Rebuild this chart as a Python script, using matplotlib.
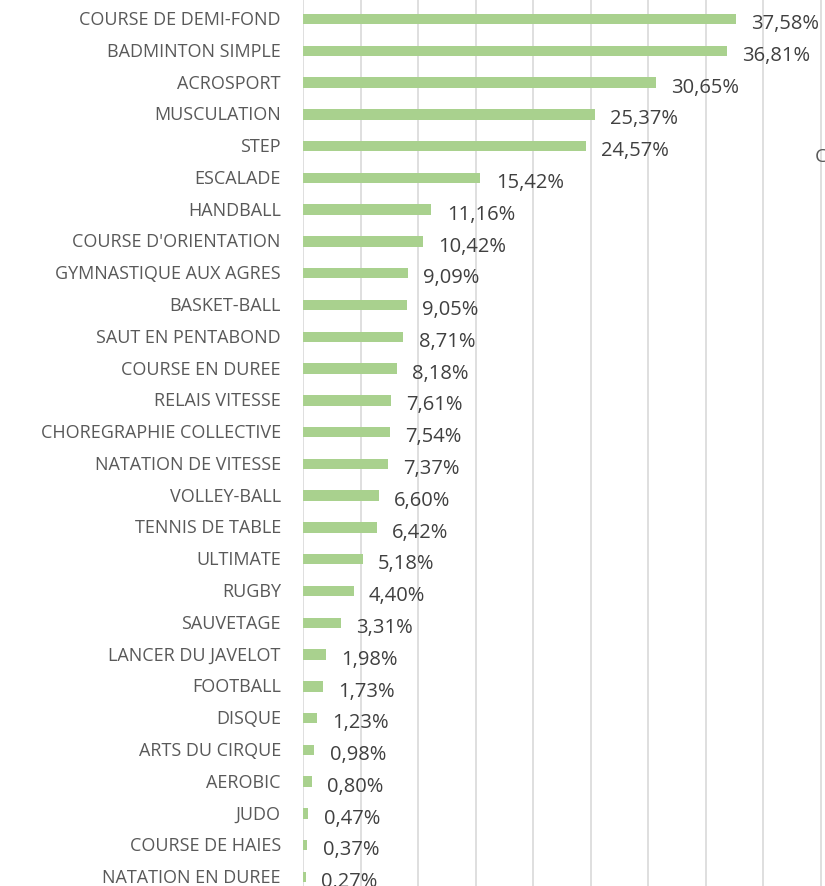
import matplotlib.pyplot as plt
import matplotlib.transforms as mtransforms
from matplotlib.ticker import MultipleLocator

sports = ["COURSE DE DEMI-FOND", "BADMINTON SIMPLE", "ACROSPORT", "MUSCULATION",
          "STEP", "ESCALADE", "HANDBALL", "COURSE D'ORIENTATION",
          "GYMNASTIQUE AUX AGRES", "BASKET-BALL", "SAUT EN PENTABOND",
          "COURSE EN DUREE", "RELAIS VITESSE", "CHOREGRAPHIE COLLECTIVE",
          "NATATION DE VITESSE", "VOLLEY-BALL", "TENNIS DE TABLE", "ULTIMATE",
          "RUGBY", "SAUVETAGE", "LANCER DU JAVELOT", "FOOTBALL", "DISQUE",
          "ARTS DU CIRQUE", "AEROBIC", "JUDO", "COURSE DE HAIES",
          "NATATION EN DUREE"]
pct = [37.58, 36.81, 30.65, 25.37, 24.57, 15.42, 11.16, 10.42, 9.09, 9.05,
       8.71, 8.18, 7.61, 7.54, 7.37, 6.60, 6.42, 5.18, 4.40, 3.31, 1.98,
       1.73, 1.23, 0.98, 0.80, 0.47, 0.37, 0.27]

plt.rcParams['font.family'] = ['Open Sans', 'DejaVu Sans']

fig = plt.figure(figsize=(8.25, 8.87), dpi=100)
ax = fig.add_axes([303/825, 0, 1 - 303/825, 1])

y = list(range(len(sports)))
ax.barh(y, pct, height=0.33, color="#A9D18E", zorder=3)

for i, v in enumerate(pct):
    ax.annotate(f"{v:.2f}%".replace(".", ","), (v, i), xytext=(11, -3),
                textcoords="offset points", ha="left", va="center",
                fontsize=14.5, color="#404040")

ax.set_yticks(y)
ax.set_yticklabels(sports, fontsize=13, color="#595959")
ax.tick_params(axis="y", length=0, pad=16)
ax.tick_params(axis="x", length=0, labelbottom=False)
# nudge the category labels up a little
shift = mtransforms.ScaledTranslation(0, 2 / 100, fig.dpi_scale_trans)
for lab in ax.get_yticklabels():
    lab.set_transform(lab.get_transform() + shift)

ax.set_xlim(0, (825 - 303) / 11.51)
ax.set_ylim(27 + 9 / 31.78, -20 / 31.78)
ax.xaxis.set_major_locator(MultipleLocator(5))
ax.grid(axis="x", color="#D9D9D9", linewidth=1.2, zorder=0)
for s in ax.spines.values():
    s.set_visible(False)

# cut-off text at the right edge of the original
fig.text(815 / 825, 1 - 157 / 887, "C", fontsize=14, color="#595959",
         ha="left", va="center")

fig.savefig("out.png", dpi=100)
